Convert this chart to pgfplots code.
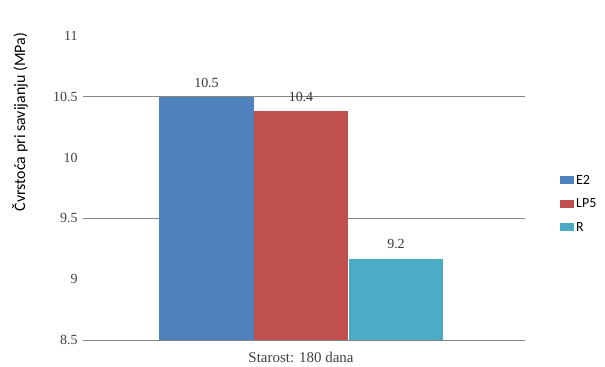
\documentclass[border=0pt]{standalone}
\usepackage{pgfplots}
\pgfplotsset{compat=1.18}
\usepackage{fontspec}
\setmainfont{Liberation Serif}
\newfontfamily\legfont{Carlito}
\definecolor{cB}{HTML}{4F81BD}
\definecolor{cR}{HTML}{C0504D}
\definecolor{cC}{HTML}{4BACC6}
\definecolor{gridc}{HTML}{868686}
\begin{document}
\begin{tikzpicture}
\begin{axis}[
  at={(0,0)}, anchor=south west,
  scale only axis, width=442bp, height=304bp,
  xmin=0, xmax=442, ymin=8.5, ymax=11,
  axis line style={draw=none},
  major tick style={draw=none},
  /pgf/number format/assume math mode=true,
  ytick={8.5,9,9.5,10,10.5,11},
  extra y ticks={8.5,9.5,10.5},
  extra y tick labels={},
  extra y tick style={grid=major, major grid style={gridc, line width=0.8pt}},
  xtick={218}, xticklabels={Starost: 180 dana},
  yticklabel style={font=\fontsize{14}{16}\selectfont, text=black!75, xshift=-2bp},
  xticklabel style={font=\fontsize{15}{17}\selectfont, text=black!75, yshift=-4bp},
  ylabel={\legfont Čvrstoća pri savijanju (MPa)},
  ylabel style={at={(axis description cs:-0.1425,0.717)}, anchor=center, font=\fontsize{16}{18}\selectfont},
  ybar, bar width=94.5, bar shift=0pt,
  nodes near coords, point meta=explicit symbolic,
  nodes near coords style={font=\fontsize{14}{16}\selectfont, text=black!80, yshift=6bp},
  legend cell align=left,
  legend style={draw=none, fill=none, at={(1.072,0.447)}, anchor=west,
    font=\legfont\fontsize{14}{16}\selectfont, row sep=9pt},
  legend image code/.code={\draw[#1, draw=none] (0cm,-0.12cm) rectangle (0.5cm,0.16cm);},
]
\addplot[fill=cB, draw=none] coordinates {(123.5,10.5) [10.5]};
\addplot[fill=cR, draw=none] coordinates {(218,10.38) [10.4]};
\addplot[fill=cC, draw=none] coordinates {(313,9.17) [9.2]};
\legend{E2,LP5,R}
\end{axis}
\path[use as bounding box] (-83bp,-27bp) rectangle (522bp,340bp);
\end{tikzpicture}
\end{document}
